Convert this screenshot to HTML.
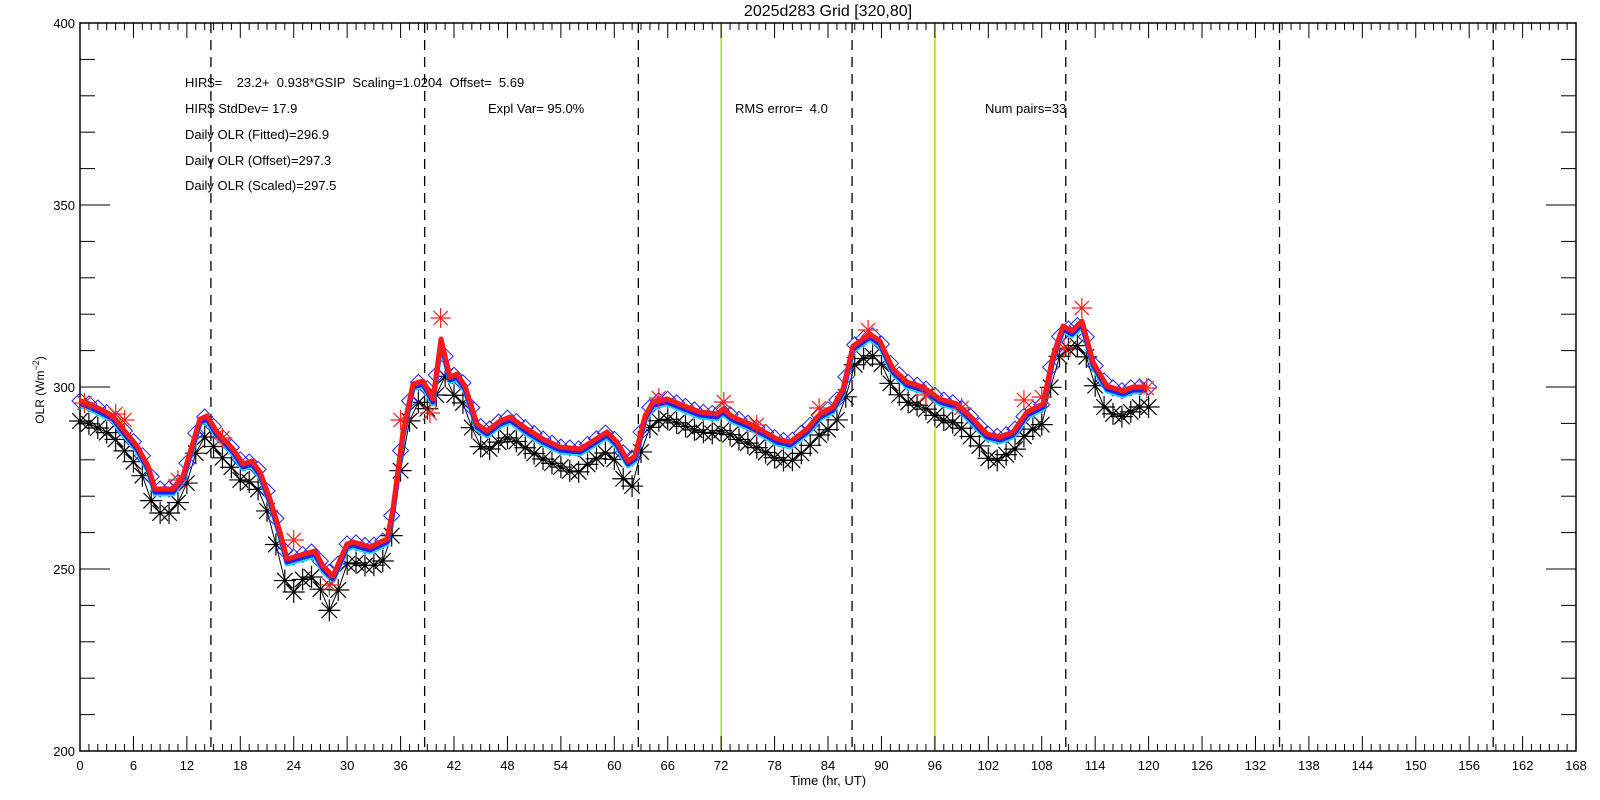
<!DOCTYPE html>
<html><head><meta charset="utf-8"><style>
html,body{margin:0;padding:0;background:#fff;}
svg{display:block;font-family:"Liberation Sans",sans-serif;}
text{white-space:pre;}
</style></head><body>
<svg id="s" width="1600" height="800" xmlns="http://www.w3.org/2000/svg" xml:space="preserve">
<rect width="1600" height="800" fill="#fff"/>
<text x="828" y="16" font-size="16" text-anchor="middle">2025d283 Grid [320,80]</text>
<g font-size="13">
<text x="185" y="87">HIR$=    23.2+  0.938*GSIP  Scaling=1.0204  Offset=  5.69</text>
<text x="185" y="113">HIR$ StdDev= 17.9</text>
<text x="488" y="113">Expl Var= 95.0%</text>
<text x="735" y="113">RMS error=  4.0</text>
<text x="985" y="113">Num pairs=33</text>
<text x="185" y="139">Daily OLR (Fitted)=296.9</text>
<text x="185" y="165">Daily OLR (Offset)=297.3</text>
<text x="185" y="190">Daily OLR (Scaled)=297.5</text>
</g>
<text x="828" y="785" font-size="13" text-anchor="middle">Time (hr, UT)</text>
<text transform="translate(44,390) rotate(-90)" font-size="12" text-anchor="middle">OLR (Wm<tspan dy="-5" font-size="9">−2</tspan><tspan dy="5">)</tspan></text>
<g id="g"></g>
</svg>
<script>
var g=document.getElementById('g');
function X(h){return 80+h*8.905;}
function Y(v){return 23+(400-v)*3.64;}
var out='';
function L(x1,y1,x2,y2,st){out+='<line x1="'+x1+'" y1="'+y1+'" x2="'+x2+'" y2="'+y2+'" '+st+'/>';}
for(var k=0;k<7;k++){var x=X(14.7+24*k);L(x,23,x,751,'stroke="#000" stroke-width="1.3" stroke-dasharray="10,7"');}
L(X(72),23,X(72),751,'stroke="#a8e01e" stroke-width="1.5"');
L(X(96),23,X(96),751,'stroke="#a8e01e" stroke-width="1.5"');
out+='<rect x="80" y="23" width="1496" height="728" fill="none" stroke="#000" stroke-width="1.5"/>';
for(var h=0;h<=168;h++){var x=X(h),len=(h%6==0)?15:7;L(x,751,x,751-len,'stroke="#000"');L(x,23,x,23+len,'stroke="#000"');
 if(h%6==0)out+='<text x="'+x+'" y="770" font-size="13" text-anchor="middle">'+h+'</text>';}
for(var v=200;v<=400;v+=10){var y=Y(v),len=(v%50==0)?30:15;L(80,y,80+len,y,'stroke="#000"');L(1576,y,1576-len,y,'stroke="#000"');
 if(v%50==0)out+='<text x="75" y="'+(y+5)+'" font-size="13" text-anchor="end">'+v+'</text>';}
var P=[[80,402],[85,403],[100,410],[113,417],[123,430],[137,447],[148,467],[155,490],[173,490],[183,477],[200,420],[207,417],[217,433],[233,450],[243,465],[252,462],[260,473],[270,500],[280,533],[287,560],[297,557],[315,552],[323,567],[333,577],[347,545],[353,543],[370,548],[387,540],[393,510],[403,433],[413,385],[423,382],[433,400],[441,340],[450,378],[457,375],[465,387],[477,425],[487,432],[500,422],[510,418],[527,430],[543,440],[560,448],[580,450],[593,442],[607,433],[617,443],[628,462],[635,457],[645,417],[653,403],[667,400],[687,408],[700,413],[717,415],[723,410],[733,418],[750,425],[763,432],[777,440],[790,443],[807,430],[820,415],[833,408],[843,390],[853,347],[870,335],[880,342],[893,370],[907,383],[923,388],[940,400],[957,405],[970,417],[987,435],[1000,438],[1013,433],[1027,413],[1043,405],[1053,357],[1063,327],[1072,332],[1082,322],[1093,363],[1107,387],[1123,392],[1133,388],[1147,388]];
function interp(x){for(var i=1;i<P.length;i++){if(x<=P[i][0]){var a=P[i-1],b=P[i];return a[1]+(b[1]-a[1])*(x-a[0])/(b[0]-a[0]);}}return P[P.length-1][1];}
function pts(d){return P.map(function(p){return p[0]+','+(p[1]+d);}).join(' ');}
var extra={8:4,9:4,10:4,22:6,23:10,24:15,25:5,26:5,27:8,28:18,29:6,55:3,56:3,61:6,62:8,102:4,103:4,115:6,116:6,117:6,118:4};
var bp=[];for(var h=0;h<=120;h++){var x=X(h),y=interp(x)+19+(extra[h]||0);bp.push([x,y]);}
out+='<polyline points="'+bp.map(function(p){return p.join(',');}).join(' ')+'" fill="none" stroke="#000" stroke-width="1"/>';
function star(x,y,r,c,w){var s='';for(var i=0;i<4;i++){var a=i*Math.PI/4,dx=r*Math.cos(a),dy=r*Math.sin(a);s+='<line x1="'+(x-dx)+'" y1="'+(y-dy)+'" x2="'+(x+dx)+'" y2="'+(y+dy)+'" stroke="'+c+'" stroke-width="'+w+'"/>';}return s;}
bp.forEach(function(p){out+=star(p[0],p[1],11,'#000',1.2);out+='<circle cx="'+p[0]+'" cy="'+p[1]+'" r="1.8"/>';});
for(var h=0;h<=120;h++){var x=X(h),y=interp(x)-1;out+='<polygon points="'+x+','+(y-8)+' '+(x+8)+','+y+' '+x+','+(y+8)+' '+(x-8)+','+y+'" fill="none" stroke="#2020ff" stroke-width="1"/>';}
out+='<polyline points="'+pts(4)+'" fill="none" stroke="#22d8f0" stroke-width="5" stroke-linejoin="round"/>';
out+='<polyline points="'+pts(2)+'" fill="none" stroke="#2020ee" stroke-width="5" stroke-linejoin="round"/>';
out+='<polyline points="'+pts(-1)+'" fill="none" stroke="#ff1a1a" stroke-width="5" stroke-linejoin="round"/>';
var R=[[0.5,403],[4,414],[5,420],[11,480],[16,438],[24,540],[28,585],[36,420],[39.3,413],[40.5,318],[65,398],[72.3,402],[76,425],[83,408],[88.5,330],[95,395],[99,408],[106,400],[108,397],[110.5,348],[112.5,308],[119.8,388]];
R.forEach(function(r){out+=star(X(r[0]),r[1],10,'#ff2020',1.2);out+='<line x1="'+(X(r[0])-10)+'" y1="'+r[1]+'" x2="'+(X(r[0])+10)+'" y2="'+r[1]+'" stroke="#ff2020"/>';});
g.innerHTML=out;
</script>
</body></html>
